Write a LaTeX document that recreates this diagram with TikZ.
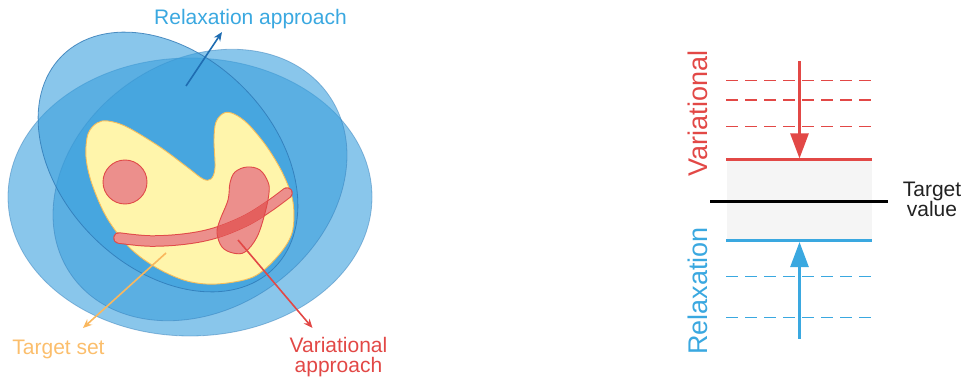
\documentclass[tikz,border=0pt]{standalone}
\usepackage{fontspec}
\setmainfont{Liberation Sans}
\usetikzlibrary{arrows.meta}
\definecolor{blueF}{HTML}{3BA0DD}
\definecolor{blueE}{HTML}{2E78B5}
\definecolor{blueT}{HTML}{3AA8E0}
\definecolor{redM}{HTML}{E24846}
\definecolor{redF}{HTML}{EC8F8C}
\definecolor{redD}{HTML}{E4605E}
\definecolor{redE}{HTML}{E04A48}
\definecolor{yelF}{HTML}{FFF5AB}
\definecolor{yelE}{HTML}{F6BE5C}
\definecolor{orT}{HTML}{FBBE6C}
\definecolor{orA}{HTML}{F9B75E}
\definecolor{arrB}{HTML}{1F6DB2}
\definecolor{grayBox}{HTML}{F5F5F5}
\definecolor{txt}{HTML}{222222}
\begin{document}
\begin{tikzpicture}[x=1pt,y=-1pt,
  lbl/.style={font=\fontsize{21}{20}\selectfont, inner sep=0pt},
  vlbl/.style={font=\fontsize{27}{27}\selectfont, inner sep=0pt, rotate=90, anchor=base},
  oval/.style={fill=blueF, fill opacity=0.6, draw=blueE, draw opacity=0.45, line width=0.8pt},
  dashline/.style={dash pattern=on 12pt off 7pt, line width=1.4pt},
  solidline/.style={line width=3pt},
  bigarrow/.style={line width=2.6pt, -{Triangle[width=18pt,length=25pt]}},
  smallarrow/.style={line width=1.6pt, -{Stealth[length=9pt,width=7.5pt]}}
]
\useasboundingbox (0,0) rectangle (964,377);

% ---------- left panel: relaxation ellipses ----------
\path[oval] (190,197) ellipse [x radius=182pt, y radius=139pt];
\path[oval, rotate around={35:(200,185)}] (200,185) ellipse [x radius=157pt, y radius=124pt];
\path[oval, draw opacity=0.8, rotate around={-45:(168,162)}] (168,162) ellipse [x radius=150pt, y radius=106pt];

% target set
\filldraw[fill=yelF, draw=yelE, line width=0.9pt] plot[smooth cycle, tension=0.55] coordinates {
 (97,123) (108,121) (127,127) (160,147) (187,167) (203,179) (211,179) (215,168)
 (214,140) (216,122) (224,113) (234,114) (248,124) (267,147) (283,174) (293,202)
 (292,233) (277,257) (253,277) (217,284) (187,281) (157,268) (130,248) (107,218)
 (92,184) (86,157) (88,134)};

% variational sets
\filldraw[fill=redF, draw=redE, line width=0.9pt] (125,182) circle [radius=22pt];
\def\tongue{plot[smooth cycle, tension=0.6] coordinates {
 (247,167) (260,170) (268,182) (269,193) (265,213) (257,237) (245,252) (233,253)
 (222,247) (217,233) (220,220) (228,200) (230,183) (235,172)}}
\fill[redF] \tongue;
\def\band{plot[smooth, tension=0.6] coordinates {(119,238) (150,241) (185,239) (215,233) (245,221) (268,207) (287,193)}}
\draw[redE, line width=11.5pt, line cap=round] \band;
\draw[redF, line width=9.5pt, line cap=round] \band;
\begin{scope}
  \clip \tongue;
  \draw[redD, line width=10.5pt, line cap=round] \band;
\end{scope}
\draw[redE, line width=0.9pt] \tongue;

% labels and arrows (left)
\node[lbl, text=blueT, anchor=base] (ra) at (250.5,25) {Relaxation approach};
\node[lbl, text=orT, anchor=base] (ts) at (58.5,354) {Target set};
\node[lbl, text=redM, align=center] (va) at (338.5,357.5) {Variational\\approach};
\coordinate (raS) at (186,86);  \coordinate (raE) at (222,32);
\coordinate (tsS) at (166,253); \coordinate (tsE) at (83,328);
\coordinate (vaS) at (238,240); \coordinate (vaE) at (312.5,328);
\draw[arrB, smallarrow] (raS) -- (raE);
\draw[orA, smallarrow] (tsS) -- (tsE);
\draw[redM, smallarrow] (vaS) -- (vaE);

% ---------- right panel: bounds ----------
\fill[grayBox] (727,160) rectangle (872,240.5);
\draw[redM, dashline] (726,80.7) -- (872,80.7);
\draw[redM, dashline] (726,100) -- (872,100);
\draw[redM, dashline] (726,126.7) -- (872,126.7);
\draw[redM, solidline] (726,160) -- (872,160);
\draw[black, solidline] (710,201) -- (888,201);
\draw[blueT, solidline] (726,240.5) -- (872,240.5);
\draw[blueT, dashline] (726,276.7) -- (872,276.7);
\draw[blueT, dashline] (726,317.7) -- (872,317.7);
\coordinate (vS) at (799.5,61.5);  \coordinate (vE) at (799.5,158.5);
\coordinate (rS) at (799.5,338.5); \coordinate (rE) at (799.5,242);
\draw[redM, bigarrow] (vS) -- (vE);
\draw[blueT, bigarrow] (rS) -- (rE);
\node[vlbl, text=redM] (varlab) at (707,113.5) {Variational};
\node[vlbl, text=blueT] (rellab) at (707,291) {Relaxation};
\node[lbl, text=txt, align=center] (tv) at (932,199) {Target\\value};
\end{tikzpicture}
\end{document}
